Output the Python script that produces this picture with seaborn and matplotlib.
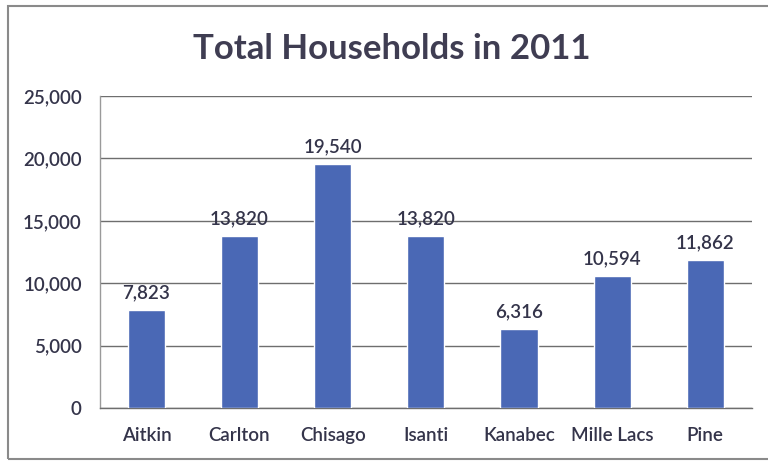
import matplotlib
matplotlib.use("Agg")
import matplotlib.pyplot as plt
import seaborn as sns
import pandas as pd
from matplotlib.patches import Rectangle

counties = ["Aitkin", "Carlton", "Chisago", "Isanti", "Kanabec", "Mille Lacs", "Pine"]
households = [7823, 13820, 19540, 13820, 6316, 10594, 11862]
y_ticks = [0, 5000, 10000, 15000, 20000, 25000]

df = pd.DataFrame({"County": counties, "Households": households})

sns.set_theme(style="white")
plt.rcParams["font.family"] = ["Lato", "DejaVu Sans"]

text_color = "#34344a"
bar_color = "#4a68b5"
grid_color = "#6e6e6e"

fig = plt.figure(figsize=(7.68, 4.62), dpi=100)
ax = fig.add_axes([0.130, 0.117, 0.849, 0.675])

sns.barplot(data=df, x="County", y="Households", color=bar_color,
            width=0.4, saturation=1, ax=ax, zorder=3)

ax.set_ylim(0, 25000)
ax.set_yticks(y_ticks)
ax.set_yticklabels([f"{v:,}" for v in y_ticks])
ax.yaxis.grid(True, color=grid_color, linewidth=1.0, zorder=0)
ax.set_axisbelow(True)

for i, v in enumerate(households):
    ax.text(i, v + 700, f"{v:,}", ha="center", va="bottom",
            fontsize=13.5, fontweight="semibold", color=text_color)

ax.set_xlabel("")
ax.set_ylabel("")
ax.tick_params(axis="both", labelsize=13.5, colors=text_color, length=0)
ax.tick_params(axis="y", pad=8)
ax.tick_params(axis="x", pad=14)
for lbl in ax.get_xticklabels() + ax.get_yticklabels():
    lbl.set_fontweight("semibold")

# minor ticks between categories on the x axis, and short outward y ticks
ax.set_xticks([i - 0.5 for i in range(len(counties) + 1)], minor=True)
ax.tick_params(axis="x", which="minor", length=5, color=grid_color, direction="out")
ax.tick_params(axis="y", which="major", length=5, color=grid_color, direction="out")

for side in ["top", "right"]:
    ax.spines[side].set_visible(False)
ax.spines["left"].set_color("#9a9a9a")
ax.spines["bottom"].set_color(grid_color)
ax.spines["left"].set_linewidth(1.0)
ax.spines["bottom"].set_linewidth(1.0)

fig.text(0.51, 0.895, "Total Households in 2011", ha="center", va="center",
         fontsize=25, fontweight="bold", color="#3f3d52")

# outer chart border
fig.patches.append(Rectangle((0.011, 0.006), 1.2, 0.982, transform=fig.transFigure,
                             fill=False, edgecolor="#8a8a8a", linewidth=1.5))

fig.savefig("out.png", dpi=100)
